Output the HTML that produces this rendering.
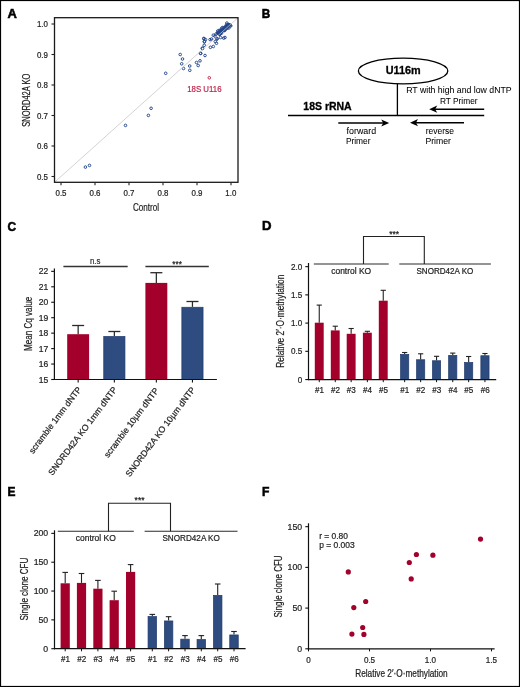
<!DOCTYPE html>
<html><head><meta charset="utf-8"><style>html,body{margin:0;padding:0;background:#fff}svg{display:block;will-change:transform}</style></head>
<body><svg width="520" height="687" viewBox="0 0 520 687">
<rect x="0" y="0" width="520" height="687" fill="#fff"/>
<circle cx="85.40" cy="167.10" r="1.3" fill="none" stroke="#24468a" stroke-width="0.95"/>
<circle cx="89.50" cy="165.40" r="1.3" fill="none" stroke="#24468a" stroke-width="0.95"/>
<circle cx="125.50" cy="125.40" r="1.3" fill="none" stroke="#24468a" stroke-width="0.95"/>
<circle cx="148.40" cy="115.40" r="1.3" fill="none" stroke="#24468a" stroke-width="0.95"/>
<circle cx="151.10" cy="108.30" r="1.3" fill="none" stroke="#24468a" stroke-width="0.95"/>
<circle cx="165.70" cy="73.30" r="1.3" fill="none" stroke="#24468a" stroke-width="0.95"/>
<circle cx="180.20" cy="54.50" r="1.3" fill="none" stroke="#24468a" stroke-width="0.95"/>
<circle cx="182.50" cy="59.00" r="1.3" fill="none" stroke="#24468a" stroke-width="0.95"/>
<circle cx="181.70" cy="63.80" r="1.3" fill="none" stroke="#24468a" stroke-width="0.95"/>
<circle cx="183.50" cy="68.50" r="1.3" fill="none" stroke="#24468a" stroke-width="0.95"/>
<circle cx="189.70" cy="66.00" r="1.3" fill="none" stroke="#24468a" stroke-width="0.95"/>
<circle cx="189.80" cy="70.30" r="1.3" fill="none" stroke="#24468a" stroke-width="0.95"/>
<circle cx="196.50" cy="62.50" r="1.3" fill="none" stroke="#24468a" stroke-width="0.95"/>
<circle cx="198.20" cy="65.50" r="1.3" fill="none" stroke="#24468a" stroke-width="0.95"/>
<circle cx="200.00" cy="60.80" r="1.3" fill="none" stroke="#24468a" stroke-width="0.95"/>
<circle cx="200.70" cy="53.50" r="1.3" fill="none" stroke="#24468a" stroke-width="0.95"/>
<circle cx="205.00" cy="55.50" r="1.3" fill="none" stroke="#24468a" stroke-width="0.95"/>
<circle cx="202.50" cy="48.50" r="1.3" fill="none" stroke="#24468a" stroke-width="0.95"/>
<circle cx="204.20" cy="45.30" r="1.3" fill="none" stroke="#24468a" stroke-width="0.95"/>
<circle cx="204.50" cy="41.80" r="1.3" fill="none" stroke="#24468a" stroke-width="0.95"/>
<circle cx="204.00" cy="38.80" r="1.3" fill="none" stroke="#24468a" stroke-width="0.95"/>
<circle cx="219.30" cy="30.30" r="1.3" fill="none" stroke="#24468a" stroke-width="0.95"/>
<circle cx="213.30" cy="35.20" r="1.3" fill="none" stroke="#24468a" stroke-width="0.95"/>
<circle cx="215.00" cy="36.10" r="1.3" fill="none" stroke="#24468a" stroke-width="0.95"/>
<circle cx="210.10" cy="39.60" r="1.3" fill="none" stroke="#24468a" stroke-width="0.95"/>
<circle cx="211.60" cy="39.00" r="1.3" fill="none" stroke="#24468a" stroke-width="0.95"/>
<circle cx="203.80" cy="38.40" r="1.3" fill="none" stroke="#24468a" stroke-width="0.95"/>
<circle cx="205.50" cy="39.60" r="1.3" fill="none" stroke="#24468a" stroke-width="0.95"/>
<circle cx="204.30" cy="41.60" r="1.3" fill="none" stroke="#24468a" stroke-width="0.95"/>
<circle cx="202.30" cy="48.20" r="1.3" fill="none" stroke="#24468a" stroke-width="0.95"/>
<circle cx="210.40" cy="47.30" r="1.3" fill="none" stroke="#24468a" stroke-width="0.95"/>
<circle cx="213.30" cy="46.50" r="1.3" fill="none" stroke="#24468a" stroke-width="0.95"/>
<circle cx="215.30" cy="41.60" r="1.3" fill="none" stroke="#24468a" stroke-width="0.95"/>
<circle cx="216.50" cy="43.30" r="1.3" fill="none" stroke="#24468a" stroke-width="0.95"/>
<circle cx="223.70" cy="38.10" r="1.3" fill="none" stroke="#24468a" stroke-width="0.95"/>
<circle cx="220.50" cy="37.50" r="1.3" fill="none" stroke="#24468a" stroke-width="0.95"/>
<circle cx="217.00" cy="38.70" r="1.3" fill="none" stroke="#24468a" stroke-width="0.95"/>
<circle cx="200.50" cy="53.20" r="1.3" fill="none" stroke="#24468a" stroke-width="0.95"/>
<circle cx="217.80" cy="31.00" r="1.3" fill="none" stroke="#24468a" stroke-width="0.95"/>
<circle cx="216.00" cy="34.00" r="1.3" fill="none" stroke="#24468a" stroke-width="0.95"/>
<circle cx="217.00" cy="39.00" r="1.3" fill="none" stroke="#24468a" stroke-width="0.95"/>
<circle cx="225.00" cy="37.50" r="1.3" fill="none" stroke="#24468a" stroke-width="0.95"/>
<circle cx="222.89" cy="27.50" r="1.3" fill="none" stroke="#24468a" stroke-width="0.95"/>
<circle cx="223.89" cy="28.32" r="1.3" fill="none" stroke="#24468a" stroke-width="0.95"/>
<circle cx="224.53" cy="28.14" r="1.3" fill="none" stroke="#24468a" stroke-width="0.95"/>
<circle cx="224.71" cy="28.26" r="1.3" fill="none" stroke="#24468a" stroke-width="0.95"/>
<circle cx="226.21" cy="27.52" r="1.3" fill="none" stroke="#24468a" stroke-width="0.95"/>
<circle cx="222.31" cy="30.28" r="1.3" fill="none" stroke="#24468a" stroke-width="0.95"/>
<circle cx="219.95" cy="33.73" r="1.3" fill="none" stroke="#24468a" stroke-width="0.95"/>
<circle cx="217.67" cy="33.10" r="1.3" fill="none" stroke="#24468a" stroke-width="0.95"/>
<circle cx="230.30" cy="25.61" r="1.3" fill="none" stroke="#24468a" stroke-width="0.95"/>
<circle cx="225.77" cy="27.32" r="1.3" fill="none" stroke="#24468a" stroke-width="0.95"/>
<circle cx="221.46" cy="33.26" r="1.3" fill="none" stroke="#24468a" stroke-width="0.95"/>
<circle cx="219.07" cy="33.92" r="1.3" fill="none" stroke="#24468a" stroke-width="0.95"/>
<circle cx="221.13" cy="31.94" r="1.3" fill="none" stroke="#24468a" stroke-width="0.95"/>
<circle cx="224.59" cy="29.14" r="1.3" fill="none" stroke="#24468a" stroke-width="0.95"/>
<circle cx="224.62" cy="29.68" r="1.3" fill="none" stroke="#24468a" stroke-width="0.95"/>
<circle cx="225.55" cy="26.59" r="1.3" fill="none" stroke="#24468a" stroke-width="0.95"/>
<circle cx="224.42" cy="28.19" r="1.3" fill="none" stroke="#24468a" stroke-width="0.95"/>
<circle cx="221.65" cy="30.18" r="1.3" fill="none" stroke="#24468a" stroke-width="0.95"/>
<circle cx="230.76" cy="25.86" r="1.3" fill="none" stroke="#24468a" stroke-width="0.95"/>
<circle cx="226.84" cy="26.72" r="1.3" fill="none" stroke="#24468a" stroke-width="0.95"/>
<circle cx="222.81" cy="30.55" r="1.3" fill="none" stroke="#24468a" stroke-width="0.95"/>
<circle cx="219.75" cy="34.26" r="1.3" fill="none" stroke="#24468a" stroke-width="0.95"/>
<circle cx="226.38" cy="25.10" r="1.3" fill="none" stroke="#24468a" stroke-width="0.95"/>
<circle cx="224.33" cy="30.57" r="1.3" fill="none" stroke="#24468a" stroke-width="0.95"/>
<circle cx="229.15" cy="24.75" r="1.3" fill="none" stroke="#24468a" stroke-width="0.95"/>
<circle cx="221.37" cy="31.66" r="1.3" fill="none" stroke="#24468a" stroke-width="0.95"/>
<circle cx="226.89" cy="23.06" r="1.3" fill="none" stroke="#24468a" stroke-width="0.95"/>
<circle cx="224.05" cy="30.01" r="1.3" fill="none" stroke="#24468a" stroke-width="0.95"/>
<circle cx="218.46" cy="32.71" r="1.3" fill="none" stroke="#24468a" stroke-width="0.95"/>
<circle cx="221.33" cy="30.04" r="1.3" fill="none" stroke="#24468a" stroke-width="0.95"/>
<circle cx="218.66" cy="32.41" r="1.3" fill="none" stroke="#24468a" stroke-width="0.95"/>
<circle cx="228.84" cy="28.01" r="1.3" fill="none" stroke="#24468a" stroke-width="0.95"/>
<circle cx="220.04" cy="32.91" r="1.3" fill="none" stroke="#24468a" stroke-width="0.95"/>
<circle cx="219.31" cy="34.17" r="1.3" fill="none" stroke="#24468a" stroke-width="0.95"/>
<circle cx="228.08" cy="26.44" r="1.3" fill="none" stroke="#24468a" stroke-width="0.95"/>
<circle cx="225.02" cy="29.98" r="1.3" fill="none" stroke="#24468a" stroke-width="0.95"/>
<circle cx="221.08" cy="31.88" r="1.3" fill="none" stroke="#24468a" stroke-width="0.95"/>
<circle cx="225.91" cy="26.92" r="1.3" fill="none" stroke="#24468a" stroke-width="0.95"/>
<circle cx="219.60" cy="32.47" r="1.3" fill="none" stroke="#24468a" stroke-width="0.95"/>
<circle cx="222.40" cy="31.22" r="1.3" fill="none" stroke="#24468a" stroke-width="0.95"/>
<circle cx="229.44" cy="24.84" r="1.3" fill="none" stroke="#24468a" stroke-width="0.95"/>
<circle cx="227.96" cy="24.71" r="1.3" fill="none" stroke="#24468a" stroke-width="0.95"/>
<circle cx="220.37" cy="30.52" r="1.3" fill="none" stroke="#24468a" stroke-width="0.95"/>
<circle cx="227.05" cy="28.23" r="1.3" fill="none" stroke="#24468a" stroke-width="0.95"/>
<circle cx="220.20" cy="33.68" r="1.3" fill="none" stroke="#24468a" stroke-width="0.95"/>
<circle cx="222.00" cy="31.08" r="1.3" fill="none" stroke="#24468a" stroke-width="0.95"/>
<circle cx="227.22" cy="25.92" r="1.3" fill="none" stroke="#24468a" stroke-width="0.95"/>
<circle cx="219.75" cy="34.14" r="1.3" fill="none" stroke="#24468a" stroke-width="0.95"/>
<circle cx="219.13" cy="32.84" r="1.3" fill="none" stroke="#24468a" stroke-width="0.95"/>
<circle cx="225.60" cy="27.41" r="1.3" fill="none" stroke="#24468a" stroke-width="0.95"/>
<circle cx="221.79" cy="28.08" r="1.3" fill="none" stroke="#24468a" stroke-width="0.95"/>
<circle cx="225.13" cy="29.32" r="1.3" fill="none" stroke="#24468a" stroke-width="0.95"/>
<circle cx="225.86" cy="28.25" r="1.3" fill="none" stroke="#24468a" stroke-width="0.95"/>
<circle cx="220.28" cy="32.04" r="1.3" fill="none" stroke="#24468a" stroke-width="0.95"/>
<circle cx="228.92" cy="25.36" r="1.3" fill="none" stroke="#24468a" stroke-width="0.95"/>
<circle cx="220.65" cy="31.42" r="1.3" fill="none" stroke="#24468a" stroke-width="0.95"/>
<circle cx="227.59" cy="26.95" r="1.3" fill="none" stroke="#24468a" stroke-width="0.95"/>
<circle cx="228.91" cy="24.62" r="1.3" fill="none" stroke="#24468a" stroke-width="0.95"/>
<circle cx="227.92" cy="24.71" r="1.3" fill="none" stroke="#24468a" stroke-width="0.95"/>
<circle cx="219.38" cy="32.64" r="1.3" fill="none" stroke="#24468a" stroke-width="0.95"/>
<circle cx="209.3" cy="77.8" r="1.3" fill="none" stroke="#c0264c" stroke-width="0.95"/>
<line x1="54.5" y1="182.3" x2="238.0" y2="17.7" stroke="#c4c4c4" stroke-width="0.75"/>
<rect x="54.5" y="17.7" width="183.5" height="164.60000000000002" fill="none" stroke="#1a1a1a" stroke-width="1.3"/>
<line x1="51.50" y1="176.50" x2="54.50" y2="176.50" stroke="#222" stroke-width="1.1"/>
<line x1="61.00" y1="182.30" x2="61.00" y2="185.30" stroke="#222" stroke-width="1.1"/>
<line x1="51.50" y1="146.00" x2="54.50" y2="146.00" stroke="#222" stroke-width="1.1"/>
<line x1="95.00" y1="182.30" x2="95.00" y2="185.30" stroke="#222" stroke-width="1.1"/>
<line x1="51.50" y1="115.50" x2="54.50" y2="115.50" stroke="#222" stroke-width="1.1"/>
<line x1="129.00" y1="182.30" x2="129.00" y2="185.30" stroke="#222" stroke-width="1.1"/>
<line x1="51.50" y1="85.00" x2="54.50" y2="85.00" stroke="#222" stroke-width="1.1"/>
<line x1="163.00" y1="182.30" x2="163.00" y2="185.30" stroke="#222" stroke-width="1.1"/>
<line x1="51.50" y1="54.50" x2="54.50" y2="54.50" stroke="#222" stroke-width="1.1"/>
<line x1="197.00" y1="182.30" x2="197.00" y2="185.30" stroke="#222" stroke-width="1.1"/>
<line x1="51.50" y1="24.00" x2="54.50" y2="24.00" stroke="#222" stroke-width="1.1"/>
<line x1="231.00" y1="182.30" x2="231.00" y2="185.30" stroke="#222" stroke-width="1.1"/>
<ellipse cx="403.1" cy="71.0" rx="44.7" ry="12.8" fill="none" stroke="#000" stroke-width="1.3"/>
<line x1="397.40" y1="83.80" x2="397.40" y2="115.50" stroke="#000" stroke-width="1.3"/>
<line x1="288.00" y1="115.50" x2="484.20" y2="115.50" stroke="#000" stroke-width="1.3"/>
<line x1="484.20" y1="109.20" x2="434.00" y2="109.20" stroke="#000" stroke-width="1.4"/>
<path d="M429.2,109.2 L437.2,105.60000000000001 L435.2,109.2 L437.2,112.8 Z" fill="#000"/>
<line x1="338.30" y1="123.00" x2="384.40" y2="123.00" stroke="#000" stroke-width="1.4"/>
<path d="M389.2,123.0 L381.2,119.4 L383.2,123.0 L381.2,126.6 Z" fill="#000"/>
<line x1="464.00" y1="122.70" x2="414.80" y2="122.70" stroke="#000" stroke-width="1.4"/>
<path d="M410.0,122.7 L418.0,119.10000000000001 L416.0,122.7 L418.0,126.3 Z" fill="#000"/>
<line x1="78.15" y1="325.50" x2="78.15" y2="334.20" stroke="#2a2a2a" stroke-width="1.25"/>
<line x1="72.15" y1="325.50" x2="84.15" y2="325.50" stroke="#2a2a2a" stroke-width="1.3"/>
<rect x="67.20" y="334.20" width="21.90" height="45.30" fill="#a3002c"/>
<line x1="78.15" y1="379.50" x2="78.15" y2="382.50" stroke="#111" stroke-width="1.1"/>
<line x1="114.35" y1="331.50" x2="114.35" y2="336.10" stroke="#2a2a2a" stroke-width="1.25"/>
<line x1="108.35" y1="331.50" x2="120.35" y2="331.50" stroke="#2a2a2a" stroke-width="1.3"/>
<rect x="103.75" y="336.45" width="21.20" height="43.05" fill="#2e4c80" stroke="#203b6c" stroke-width="0.7"/>
<line x1="114.35" y1="379.50" x2="114.35" y2="382.50" stroke="#111" stroke-width="1.1"/>
<line x1="156.35" y1="272.70" x2="156.35" y2="282.90" stroke="#2a2a2a" stroke-width="1.25"/>
<line x1="150.35" y1="272.70" x2="162.35" y2="272.70" stroke="#2a2a2a" stroke-width="1.3"/>
<rect x="145.40" y="282.90" width="21.90" height="96.60" fill="#a3002c"/>
<line x1="156.35" y1="379.50" x2="156.35" y2="382.50" stroke="#111" stroke-width="1.1"/>
<line x1="192.45" y1="301.50" x2="192.45" y2="306.90" stroke="#2a2a2a" stroke-width="1.25"/>
<line x1="186.45" y1="301.50" x2="198.45" y2="301.50" stroke="#2a2a2a" stroke-width="1.3"/>
<rect x="181.85" y="307.25" width="21.20" height="72.25" fill="#2e4c80" stroke="#203b6c" stroke-width="0.7"/>
<line x1="192.45" y1="379.50" x2="192.45" y2="382.50" stroke="#111" stroke-width="1.1"/>
<line x1="54.40" y1="268.50" x2="54.40" y2="380.10" stroke="#111" stroke-width="1.2"/>
<line x1="53.80" y1="379.50" x2="216.90" y2="379.50" stroke="#111" stroke-width="1.2"/>
<line x1="51.20" y1="379.50" x2="54.40" y2="379.50" stroke="#111" stroke-width="1.1"/>
<line x1="51.20" y1="364.05" x2="54.40" y2="364.05" stroke="#111" stroke-width="1.1"/>
<line x1="51.20" y1="348.60" x2="54.40" y2="348.60" stroke="#111" stroke-width="1.1"/>
<line x1="51.20" y1="333.15" x2="54.40" y2="333.15" stroke="#111" stroke-width="1.1"/>
<line x1="51.20" y1="317.70" x2="54.40" y2="317.70" stroke="#111" stroke-width="1.1"/>
<line x1="51.20" y1="302.25" x2="54.40" y2="302.25" stroke="#111" stroke-width="1.1"/>
<line x1="51.20" y1="286.80" x2="54.40" y2="286.80" stroke="#111" stroke-width="1.1"/>
<line x1="51.20" y1="271.35" x2="54.40" y2="271.35" stroke="#111" stroke-width="1.1"/>
<line x1="63.40" y1="266.50" x2="127.70" y2="266.50" stroke="#333" stroke-width="1.3"/>
<line x1="145.40" y1="266.50" x2="208.80" y2="266.50" stroke="#333" stroke-width="1.3"/>
<line x1="319.25" y1="305.10" x2="319.25" y2="322.70" stroke="#222" stroke-width="1.1"/>
<line x1="316.65" y1="305.10" x2="321.85" y2="305.10" stroke="#222" stroke-width="1.1"/>
<rect x="314.80" y="322.70" width="8.90" height="56.85" fill="#a3002c"/>
<line x1="319.25" y1="379.55" x2="319.25" y2="382.15" stroke="#111" stroke-width="1.0"/>
<line x1="335.25" y1="326.20" x2="335.25" y2="330.40" stroke="#222" stroke-width="1.1"/>
<line x1="332.65" y1="326.20" x2="337.85" y2="326.20" stroke="#222" stroke-width="1.1"/>
<rect x="330.80" y="330.40" width="8.90" height="49.15" fill="#a3002c"/>
<line x1="335.25" y1="379.55" x2="335.25" y2="382.15" stroke="#111" stroke-width="1.0"/>
<line x1="351.15" y1="328.50" x2="351.15" y2="333.80" stroke="#222" stroke-width="1.1"/>
<line x1="348.55" y1="328.50" x2="353.75" y2="328.50" stroke="#222" stroke-width="1.1"/>
<rect x="346.70" y="333.80" width="8.90" height="45.75" fill="#a3002c"/>
<line x1="351.15" y1="379.55" x2="351.15" y2="382.15" stroke="#111" stroke-width="1.0"/>
<line x1="367.35" y1="331.30" x2="367.35" y2="332.70" stroke="#222" stroke-width="1.1"/>
<line x1="364.75" y1="331.30" x2="369.95" y2="331.30" stroke="#222" stroke-width="1.1"/>
<rect x="362.90" y="332.70" width="8.90" height="46.85" fill="#a3002c"/>
<line x1="367.35" y1="379.55" x2="367.35" y2="382.15" stroke="#111" stroke-width="1.0"/>
<line x1="383.25" y1="290.30" x2="383.25" y2="300.70" stroke="#222" stroke-width="1.1"/>
<line x1="380.65" y1="290.30" x2="385.85" y2="290.30" stroke="#222" stroke-width="1.1"/>
<rect x="378.80" y="300.70" width="8.90" height="78.85" fill="#a3002c"/>
<line x1="383.25" y1="379.55" x2="383.25" y2="382.15" stroke="#111" stroke-width="1.0"/>
<line x1="404.65" y1="352.50" x2="404.65" y2="354.00" stroke="#222" stroke-width="1.1"/>
<line x1="402.05" y1="352.50" x2="407.25" y2="352.50" stroke="#222" stroke-width="1.1"/>
<rect x="400.55" y="354.35" width="8.20" height="25.20" fill="#2e4c80" stroke="#203b6c" stroke-width="0.7"/>
<line x1="404.65" y1="379.55" x2="404.65" y2="382.15" stroke="#111" stroke-width="1.0"/>
<line x1="420.65" y1="353.80" x2="420.65" y2="359.40" stroke="#222" stroke-width="1.1"/>
<line x1="418.05" y1="353.80" x2="423.25" y2="353.80" stroke="#222" stroke-width="1.1"/>
<rect x="416.55" y="359.75" width="8.20" height="19.80" fill="#2e4c80" stroke="#203b6c" stroke-width="0.7"/>
<line x1="420.65" y1="379.55" x2="420.65" y2="382.15" stroke="#111" stroke-width="1.0"/>
<line x1="436.55" y1="356.30" x2="436.55" y2="360.40" stroke="#222" stroke-width="1.1"/>
<line x1="433.95" y1="356.30" x2="439.15" y2="356.30" stroke="#222" stroke-width="1.1"/>
<rect x="432.45" y="360.75" width="8.20" height="18.80" fill="#2e4c80" stroke="#203b6c" stroke-width="0.7"/>
<line x1="436.55" y1="379.55" x2="436.55" y2="382.15" stroke="#111" stroke-width="1.0"/>
<line x1="452.75" y1="353.10" x2="452.75" y2="355.00" stroke="#222" stroke-width="1.1"/>
<line x1="450.15" y1="353.10" x2="455.35" y2="353.10" stroke="#222" stroke-width="1.1"/>
<rect x="448.65" y="355.35" width="8.20" height="24.20" fill="#2e4c80" stroke="#203b6c" stroke-width="0.7"/>
<line x1="452.75" y1="379.55" x2="452.75" y2="382.15" stroke="#111" stroke-width="1.0"/>
<line x1="468.65" y1="356.50" x2="468.65" y2="362.10" stroke="#222" stroke-width="1.1"/>
<line x1="466.05" y1="356.50" x2="471.25" y2="356.50" stroke="#222" stroke-width="1.1"/>
<rect x="464.55" y="362.45" width="8.20" height="17.10" fill="#2e4c80" stroke="#203b6c" stroke-width="0.7"/>
<line x1="468.65" y1="379.55" x2="468.65" y2="382.15" stroke="#111" stroke-width="1.0"/>
<line x1="484.95" y1="353.50" x2="484.95" y2="355.40" stroke="#222" stroke-width="1.1"/>
<line x1="482.35" y1="353.50" x2="487.55" y2="353.50" stroke="#222" stroke-width="1.1"/>
<rect x="480.85" y="355.75" width="8.20" height="23.80" fill="#2e4c80" stroke="#203b6c" stroke-width="0.7"/>
<line x1="484.95" y1="379.55" x2="484.95" y2="382.15" stroke="#111" stroke-width="1.0"/>
<line x1="308.50" y1="263.00" x2="308.50" y2="380.15" stroke="#111" stroke-width="1.2"/>
<line x1="307.90" y1="379.55" x2="496.20" y2="379.55" stroke="#111" stroke-width="1.2"/>
<line x1="305.30" y1="379.55" x2="308.50" y2="379.55" stroke="#111" stroke-width="1.1"/>
<line x1="305.30" y1="351.32" x2="308.50" y2="351.32" stroke="#111" stroke-width="1.1"/>
<line x1="305.30" y1="323.10" x2="308.50" y2="323.10" stroke="#111" stroke-width="1.1"/>
<line x1="305.30" y1="294.88" x2="308.50" y2="294.88" stroke="#111" stroke-width="1.1"/>
<line x1="305.30" y1="266.65" x2="308.50" y2="266.65" stroke="#111" stroke-width="1.1"/>
<line x1="313.80" y1="263.95" x2="388.70" y2="263.95" stroke="#2a2a2a" stroke-width="1.15"/>
<line x1="399.30" y1="263.95" x2="490.90" y2="263.95" stroke="#2a2a2a" stroke-width="1.15"/>
<path d="M363.5,263.9 V236.5 H424.3 V263.9" fill="none" stroke="#222" stroke-width="1.1"/>
<line x1="65.20" y1="572.40" x2="65.20" y2="583.30" stroke="#222" stroke-width="1.1"/>
<line x1="62.40" y1="572.40" x2="68.00" y2="572.40" stroke="#222" stroke-width="1.1"/>
<rect x="60.60" y="583.30" width="9.20" height="65.40" fill="#a3002c"/>
<line x1="65.20" y1="648.70" x2="65.20" y2="651.30" stroke="#111" stroke-width="1.0"/>
<line x1="81.50" y1="573.50" x2="81.50" y2="582.90" stroke="#222" stroke-width="1.1"/>
<line x1="78.70" y1="573.50" x2="84.30" y2="573.50" stroke="#222" stroke-width="1.1"/>
<rect x="76.90" y="582.90" width="9.20" height="65.80" fill="#a3002c"/>
<line x1="81.50" y1="648.70" x2="81.50" y2="651.30" stroke="#111" stroke-width="1.0"/>
<line x1="97.90" y1="580.40" x2="97.90" y2="588.70" stroke="#222" stroke-width="1.1"/>
<line x1="95.10" y1="580.40" x2="100.70" y2="580.40" stroke="#222" stroke-width="1.1"/>
<rect x="93.30" y="588.70" width="9.20" height="60.00" fill="#a3002c"/>
<line x1="97.90" y1="648.70" x2="97.90" y2="651.30" stroke="#111" stroke-width="1.0"/>
<line x1="114.20" y1="591.20" x2="114.20" y2="600.20" stroke="#222" stroke-width="1.1"/>
<line x1="111.40" y1="591.20" x2="117.00" y2="591.20" stroke="#222" stroke-width="1.1"/>
<rect x="109.60" y="600.20" width="9.20" height="48.50" fill="#a3002c"/>
<line x1="114.20" y1="648.70" x2="114.20" y2="651.30" stroke="#111" stroke-width="1.0"/>
<line x1="130.60" y1="564.60" x2="130.60" y2="571.90" stroke="#222" stroke-width="1.1"/>
<line x1="127.80" y1="564.60" x2="133.40" y2="564.60" stroke="#222" stroke-width="1.1"/>
<rect x="126.00" y="571.90" width="9.20" height="76.80" fill="#a3002c"/>
<line x1="130.60" y1="648.70" x2="130.60" y2="651.30" stroke="#111" stroke-width="1.0"/>
<line x1="152.30" y1="614.40" x2="152.30" y2="616.20" stroke="#222" stroke-width="1.1"/>
<line x1="149.50" y1="614.40" x2="155.10" y2="614.40" stroke="#222" stroke-width="1.1"/>
<rect x="148.05" y="616.55" width="8.50" height="32.15" fill="#2e4c80" stroke="#203b6c" stroke-width="0.7"/>
<line x1="152.30" y1="648.70" x2="152.30" y2="651.30" stroke="#111" stroke-width="1.0"/>
<line x1="168.60" y1="616.70" x2="168.60" y2="620.60" stroke="#222" stroke-width="1.1"/>
<line x1="165.80" y1="616.70" x2="171.40" y2="616.70" stroke="#222" stroke-width="1.1"/>
<rect x="164.35" y="620.95" width="8.50" height="27.75" fill="#2e4c80" stroke="#203b6c" stroke-width="0.7"/>
<line x1="168.60" y1="648.70" x2="168.60" y2="651.30" stroke="#111" stroke-width="1.0"/>
<line x1="185.00" y1="635.60" x2="185.00" y2="638.80" stroke="#222" stroke-width="1.1"/>
<line x1="182.20" y1="635.60" x2="187.80" y2="635.60" stroke="#222" stroke-width="1.1"/>
<rect x="180.75" y="639.15" width="8.50" height="9.55" fill="#2e4c80" stroke="#203b6c" stroke-width="0.7"/>
<line x1="185.00" y1="648.70" x2="185.00" y2="651.30" stroke="#111" stroke-width="1.0"/>
<line x1="201.30" y1="635.60" x2="201.30" y2="639.20" stroke="#222" stroke-width="1.1"/>
<line x1="198.50" y1="635.60" x2="204.10" y2="635.60" stroke="#222" stroke-width="1.1"/>
<rect x="197.05" y="639.55" width="8.50" height="9.15" fill="#2e4c80" stroke="#203b6c" stroke-width="0.7"/>
<line x1="201.30" y1="648.70" x2="201.30" y2="651.30" stroke="#111" stroke-width="1.0"/>
<line x1="217.70" y1="584.00" x2="217.70" y2="595.00" stroke="#222" stroke-width="1.1"/>
<line x1="214.90" y1="584.00" x2="220.50" y2="584.00" stroke="#222" stroke-width="1.1"/>
<rect x="213.45" y="595.35" width="8.50" height="53.35" fill="#2e4c80" stroke="#203b6c" stroke-width="0.7"/>
<line x1="217.70" y1="648.70" x2="217.70" y2="651.30" stroke="#111" stroke-width="1.0"/>
<line x1="234.00" y1="631.50" x2="234.00" y2="634.60" stroke="#222" stroke-width="1.1"/>
<line x1="231.20" y1="631.50" x2="236.80" y2="631.50" stroke="#222" stroke-width="1.1"/>
<rect x="229.75" y="634.95" width="8.50" height="13.75" fill="#2e4c80" stroke="#203b6c" stroke-width="0.7"/>
<line x1="234.00" y1="648.70" x2="234.00" y2="651.30" stroke="#111" stroke-width="1.0"/>
<line x1="54.50" y1="530.30" x2="54.50" y2="649.30" stroke="#111" stroke-width="1.2"/>
<line x1="53.90" y1="648.70" x2="245.60" y2="648.70" stroke="#111" stroke-width="1.2"/>
<line x1="51.30" y1="648.70" x2="54.50" y2="648.70" stroke="#111" stroke-width="1.1"/>
<line x1="51.30" y1="619.87" x2="54.50" y2="619.87" stroke="#111" stroke-width="1.1"/>
<line x1="51.30" y1="591.04" x2="54.50" y2="591.04" stroke="#111" stroke-width="1.1"/>
<line x1="51.30" y1="562.21" x2="54.50" y2="562.21" stroke="#111" stroke-width="1.1"/>
<line x1="51.30" y1="533.38" x2="54.50" y2="533.38" stroke="#111" stroke-width="1.1"/>
<line x1="57.80" y1="531.20" x2="133.80" y2="531.20" stroke="#2a2a2a" stroke-width="1.15"/>
<line x1="144.60" y1="531.20" x2="237.50" y2="531.20" stroke="#2a2a2a" stroke-width="1.15"/>
<path d="M108.5,531.2 V503.2 H170.5 V531.2" fill="none" stroke="#222" stroke-width="1.1"/>
<circle cx="348.3" cy="571.9" r="2.6" fill="#a3002c"/>
<circle cx="365.7" cy="601.5" r="2.6" fill="#a3002c"/>
<circle cx="353.8" cy="607.6" r="2.6" fill="#a3002c"/>
<circle cx="362.7" cy="627.5" r="2.6" fill="#a3002c"/>
<circle cx="351.9" cy="634.1" r="2.6" fill="#a3002c"/>
<circle cx="363.9" cy="634.4" r="2.6" fill="#a3002c"/>
<circle cx="416.4" cy="554.5" r="2.6" fill="#a3002c"/>
<circle cx="432.9" cy="555.2" r="2.6" fill="#a3002c"/>
<circle cx="409.3" cy="562.5" r="2.6" fill="#a3002c"/>
<circle cx="411.2" cy="578.9" r="2.6" fill="#a3002c"/>
<circle cx="480.5" cy="539.1" r="2.6" fill="#a3002c"/>
<line x1="308.50" y1="523.30" x2="308.50" y2="649.40" stroke="#111" stroke-width="1.2"/>
<line x1="307.90" y1="648.80" x2="494.60" y2="648.80" stroke="#111" stroke-width="1.2"/>
<line x1="305.30" y1="648.80" x2="308.50" y2="648.80" stroke="#111" stroke-width="1.1"/>
<line x1="305.30" y1="608.09" x2="308.50" y2="608.09" stroke="#111" stroke-width="1.1"/>
<line x1="305.30" y1="567.38" x2="308.50" y2="567.38" stroke="#111" stroke-width="1.1"/>
<line x1="305.30" y1="526.67" x2="308.50" y2="526.67" stroke="#111" stroke-width="1.1"/>
<line x1="308.50" y1="648.80" x2="308.50" y2="651.40" stroke="#111" stroke-width="1.0"/>
<line x1="369.50" y1="648.80" x2="369.50" y2="651.40" stroke="#111" stroke-width="1.0"/>
<line x1="430.50" y1="648.80" x2="430.50" y2="651.40" stroke="#111" stroke-width="1.0"/>
<line x1="491.50" y1="648.80" x2="491.50" y2="651.40" stroke="#111" stroke-width="1.0"/>
<text transform="translate(7.59,17.60) scale(1.0357,1)" font-family="Liberation Sans" font-size="12.5" font-weight="bold" fill="#000" stroke="#000" stroke-width="0.55">A</text>
<text transform="translate(261.85,18.00) scale(0.9351,1)" font-family="Liberation Sans" font-size="12.5" font-weight="bold" fill="#000" stroke="#000" stroke-width="0.55">B</text>
<text transform="translate(7.42,230.50) scale(0.9506,1)" font-family="Liberation Sans" font-size="12.5" font-weight="bold" fill="#000" stroke="#000" stroke-width="0.55">C</text>
<text transform="translate(262.06,230.20) scale(1.0519,1)" font-family="Liberation Sans" font-size="12.5" font-weight="bold" fill="#000" stroke="#000" stroke-width="0.55">D</text>
<text transform="translate(7.43,496.00) scale(0.9571,1)" font-family="Liberation Sans" font-size="12.5" font-weight="bold" fill="#000" stroke="#000" stroke-width="0.55">E</text>
<text transform="translate(262.12,496.00) scale(0.9688,1)" font-family="Liberation Sans" font-size="12.5" font-weight="bold" fill="#000" stroke="#000" stroke-width="0.55">F</text>
<text transform="translate(36.95,179.60) scale(0.8800,1)" font-family="Liberation Sans" font-size="9.0" font-weight="normal" fill="#1e1e1e" stroke="#1e1e1e" stroke-width="0.22">0.5</text>
<text transform="translate(55.50,196.30) scale(0.8800,1)" font-family="Liberation Sans" font-size="9.0" font-weight="normal" fill="#1e1e1e" stroke="#1e1e1e" stroke-width="0.22">0.5</text>
<text transform="translate(36.95,149.10) scale(0.8800,1)" font-family="Liberation Sans" font-size="9.0" font-weight="normal" fill="#1e1e1e" stroke="#1e1e1e" stroke-width="0.22">0.6</text>
<text transform="translate(89.50,196.30) scale(0.8800,1)" font-family="Liberation Sans" font-size="9.0" font-weight="normal" fill="#1e1e1e" stroke="#1e1e1e" stroke-width="0.22">0.6</text>
<text transform="translate(36.95,118.60) scale(0.8800,1)" font-family="Liberation Sans" font-size="9.0" font-weight="normal" fill="#1e1e1e" stroke="#1e1e1e" stroke-width="0.22">0.7</text>
<text transform="translate(123.50,196.30) scale(0.8800,1)" font-family="Liberation Sans" font-size="9.0" font-weight="normal" fill="#1e1e1e" stroke="#1e1e1e" stroke-width="0.22">0.7</text>
<text transform="translate(36.95,88.10) scale(0.8800,1)" font-family="Liberation Sans" font-size="9.0" font-weight="normal" fill="#1e1e1e" stroke="#1e1e1e" stroke-width="0.22">0.8</text>
<text transform="translate(157.50,196.30) scale(0.8800,1)" font-family="Liberation Sans" font-size="9.0" font-weight="normal" fill="#1e1e1e" stroke="#1e1e1e" stroke-width="0.22">0.8</text>
<text transform="translate(36.95,57.60) scale(0.8800,1)" font-family="Liberation Sans" font-size="9.0" font-weight="normal" fill="#1e1e1e" stroke="#1e1e1e" stroke-width="0.22">0.9</text>
<text transform="translate(191.50,196.30) scale(0.8800,1)" font-family="Liberation Sans" font-size="9.0" font-weight="normal" fill="#1e1e1e" stroke="#1e1e1e" stroke-width="0.22">0.9</text>
<text transform="translate(36.95,27.10) scale(0.8800,1)" font-family="Liberation Sans" font-size="9.0" font-weight="normal" fill="#1e1e1e" stroke="#1e1e1e" stroke-width="0.22">1.0</text>
<text transform="translate(225.37,196.30) scale(0.8800,1)" font-family="Liberation Sans" font-size="9.0" font-weight="normal" fill="#1e1e1e" stroke="#1e1e1e" stroke-width="0.22">1.0</text>
<text transform="translate(132.96,210.90) scale(0.7361,1)" font-family="Liberation Sans" font-size="11.0" font-weight="normal" fill="#1e1e1e" stroke="#1e1e1e" stroke-width="0.22">Control</text>
<text transform="translate(29.90,126.75) rotate(-90) scale(0.6968,1)" font-family="Liberation Sans" font-size="10.8" font-weight="normal" fill="#1e1e1e" stroke="#1e1e1e" stroke-width="0.22">SNORD42A KO</text>
<text transform="translate(187.19,91.80) scale(0.8721,1)" font-family="Liberation Sans" font-size="9.0" font-weight="normal" fill="#c0264c" stroke="#c0264c" stroke-width="0.22">18S U116</text>
<text transform="translate(385.72,74.40) scale(0.9683,1)" font-family="Liberation Sans" font-size="11.2" font-weight="bold" fill="#000" stroke="#000" stroke-width="0.3">U116m</text>
<text transform="translate(303.37,109.80) scale(1.0487,1)" font-family="Liberation Sans" font-size="10.0" font-weight="bold" fill="#000" stroke="#000" stroke-width="0.3">18S rRNA</text>
<text transform="translate(406.15,93.20) scale(0.9397,1)" font-family="Liberation Sans" font-size="9.3" font-weight="normal" fill="#000" stroke="#000" stroke-width="0.05">RT with high and low dNTP</text>
<text transform="translate(439.88,103.80) scale(0.8978,1)" font-family="Liberation Sans" font-size="9.3" font-weight="normal" fill="#000" stroke="#000" stroke-width="0.05">RT Primer</text>
<text transform="translate(346.50,133.90) scale(0.9571,1)" font-family="Liberation Sans" font-size="9.3" font-weight="normal" fill="#000" stroke="#000" stroke-width="0.05">forward</text>
<text transform="translate(345.88,143.50) scale(0.9015,1)" font-family="Liberation Sans" font-size="9.3" font-weight="normal" fill="#000" stroke="#000" stroke-width="0.05">Primer</text>
<text transform="translate(425.65,133.80) scale(0.9133,1)" font-family="Liberation Sans" font-size="9.3" font-weight="normal" fill="#000" stroke="#000" stroke-width="0.05">reverse</text>
<text transform="translate(425.45,143.90) scale(0.9318,1)" font-family="Liberation Sans" font-size="9.3" font-weight="normal" fill="#000" stroke="#000" stroke-width="0.05">Primer</text>
<text transform="translate(38.68,382.60) scale(0.9500,1)" font-family="Liberation Sans" font-size="9.0" font-weight="normal" fill="#1e1e1e" stroke="#1e1e1e" stroke-width="0.22">15</text>
<text transform="translate(38.68,367.15) scale(0.9500,1)" font-family="Liberation Sans" font-size="9.0" font-weight="normal" fill="#1e1e1e" stroke="#1e1e1e" stroke-width="0.22">16</text>
<text transform="translate(38.68,351.70) scale(0.9500,1)" font-family="Liberation Sans" font-size="9.0" font-weight="normal" fill="#1e1e1e" stroke="#1e1e1e" stroke-width="0.22">17</text>
<text transform="translate(38.68,336.25) scale(0.9500,1)" font-family="Liberation Sans" font-size="9.0" font-weight="normal" fill="#1e1e1e" stroke="#1e1e1e" stroke-width="0.22">18</text>
<text transform="translate(38.68,320.80) scale(0.9500,1)" font-family="Liberation Sans" font-size="9.0" font-weight="normal" fill="#1e1e1e" stroke="#1e1e1e" stroke-width="0.22">19</text>
<text transform="translate(38.68,305.35) scale(0.9500,1)" font-family="Liberation Sans" font-size="9.0" font-weight="normal" fill="#1e1e1e" stroke="#1e1e1e" stroke-width="0.22">20</text>
<text transform="translate(38.68,289.90) scale(0.9500,1)" font-family="Liberation Sans" font-size="9.0" font-weight="normal" fill="#1e1e1e" stroke="#1e1e1e" stroke-width="0.22">21</text>
<text transform="translate(38.68,274.45) scale(0.9500,1)" font-family="Liberation Sans" font-size="9.0" font-weight="normal" fill="#1e1e1e" stroke="#1e1e1e" stroke-width="0.22">22</text>
<text transform="translate(32.20,351.09) rotate(-90) scale(0.7717,1)" font-family="Liberation Sans" font-size="10.5" font-weight="normal" fill="#1e1e1e" stroke="#1e1e1e" stroke-width="0.22">Mean Cq value</text>
<text transform="translate(89.94,264.40) scale(0.9320,1)" font-family="Liberation Sans" font-size="8.4" font-weight="normal" fill="#333" stroke="#333" stroke-width="0.22">n.s</text>
<text transform="translate(172.31,266.85) scale(0.9684,1)" font-family="Liberation Sans" font-size="8.4" font-weight="normal" fill="#222" stroke="#222" stroke-width="0.22">***</text>
<text transform="translate(33.16,454.19) rotate(-53) scale(0.9913,1)" font-family="Liberation Sans" font-size="8.7" font-weight="normal" fill="#1e1e1e" stroke="#1e1e1e" stroke-width="0.22">scramble 1mm dNTP</text>
<text transform="translate(52.48,475.91) rotate(-53) scale(1.0037,1)" font-family="Liberation Sans" font-size="8.7" font-weight="normal" fill="#1e1e1e" stroke="#1e1e1e" stroke-width="0.22">SNORD42A KO 1mm dNTP</text>
<text transform="translate(108.17,458.33) rotate(-53) scale(1.0060,1)" font-family="Liberation Sans" font-size="8.7" font-weight="normal" fill="#1e1e1e" stroke="#1e1e1e" stroke-width="0.22">scramble 10µm dNTP</text>
<text transform="translate(129.66,477.47) rotate(-53) scale(0.9954,1)" font-family="Liberation Sans" font-size="8.7" font-weight="normal" fill="#1e1e1e" stroke="#1e1e1e" stroke-width="0.22">SNORD42A KO 10µm dNTP</text>
<text transform="translate(314.93,393.10) scale(0.9000,1)" font-family="Liberation Sans" font-size="9.0" font-weight="normal" fill="#1e1e1e" stroke="#1e1e1e" stroke-width="0.22">#1</text>
<text transform="translate(330.93,393.10) scale(0.9000,1)" font-family="Liberation Sans" font-size="9.0" font-weight="normal" fill="#1e1e1e" stroke="#1e1e1e" stroke-width="0.22">#2</text>
<text transform="translate(346.83,393.10) scale(0.9000,1)" font-family="Liberation Sans" font-size="9.0" font-weight="normal" fill="#1e1e1e" stroke="#1e1e1e" stroke-width="0.22">#3</text>
<text transform="translate(362.98,393.10) scale(0.9000,1)" font-family="Liberation Sans" font-size="9.0" font-weight="normal" fill="#1e1e1e" stroke="#1e1e1e" stroke-width="0.22">#4</text>
<text transform="translate(378.93,393.10) scale(0.9000,1)" font-family="Liberation Sans" font-size="9.0" font-weight="normal" fill="#1e1e1e" stroke="#1e1e1e" stroke-width="0.22">#5</text>
<text transform="translate(400.33,393.10) scale(0.9000,1)" font-family="Liberation Sans" font-size="9.0" font-weight="normal" fill="#1e1e1e" stroke="#1e1e1e" stroke-width="0.22">#1</text>
<text transform="translate(416.33,393.10) scale(0.9000,1)" font-family="Liberation Sans" font-size="9.0" font-weight="normal" fill="#1e1e1e" stroke="#1e1e1e" stroke-width="0.22">#2</text>
<text transform="translate(432.23,393.10) scale(0.9000,1)" font-family="Liberation Sans" font-size="9.0" font-weight="normal" fill="#1e1e1e" stroke="#1e1e1e" stroke-width="0.22">#3</text>
<text transform="translate(448.38,393.10) scale(0.9000,1)" font-family="Liberation Sans" font-size="9.0" font-weight="normal" fill="#1e1e1e" stroke="#1e1e1e" stroke-width="0.22">#4</text>
<text transform="translate(464.33,393.10) scale(0.9000,1)" font-family="Liberation Sans" font-size="9.0" font-weight="normal" fill="#1e1e1e" stroke="#1e1e1e" stroke-width="0.22">#5</text>
<text transform="translate(480.63,393.10) scale(0.9000,1)" font-family="Liberation Sans" font-size="9.0" font-weight="normal" fill="#1e1e1e" stroke="#1e1e1e" stroke-width="0.22">#6</text>
<text transform="translate(297.66,382.65) scale(0.9000,1)" font-family="Liberation Sans" font-size="9.0" font-weight="normal" fill="#1e1e1e" stroke="#1e1e1e" stroke-width="0.22">0</text>
<text transform="translate(290.91,354.43) scale(0.9000,1)" font-family="Liberation Sans" font-size="9.0" font-weight="normal" fill="#1e1e1e" stroke="#1e1e1e" stroke-width="0.22">0.5</text>
<text transform="translate(290.91,326.20) scale(0.9000,1)" font-family="Liberation Sans" font-size="9.0" font-weight="normal" fill="#1e1e1e" stroke="#1e1e1e" stroke-width="0.22">1.0</text>
<text transform="translate(290.91,297.98) scale(0.9000,1)" font-family="Liberation Sans" font-size="9.0" font-weight="normal" fill="#1e1e1e" stroke="#1e1e1e" stroke-width="0.22">1.5</text>
<text transform="translate(290.91,269.75) scale(0.9000,1)" font-family="Liberation Sans" font-size="9.0" font-weight="normal" fill="#1e1e1e" stroke="#1e1e1e" stroke-width="0.22">2.0</text>
<text transform="translate(284.00,367.85) rotate(-90) scale(0.8084,1)" font-family="Liberation Sans" font-size="10.3" font-weight="normal" fill="#1e1e1e" stroke="#1e1e1e" stroke-width="0.22">Relative 2′·O·methylation</text>
<text transform="translate(389.20,236.60) scale(1.0105,1)" font-family="Liberation Sans" font-size="8.4" font-weight="normal" fill="#222" stroke="#222" stroke-width="0.22">***</text>
<text transform="translate(331.21,274.00) scale(0.9631,1)" font-family="Liberation Sans" font-size="8.8" font-weight="normal" fill="#1e1e1e" stroke="#1e1e1e" stroke-width="0.22">control KO</text>
<text transform="translate(416.43,274.00) scale(0.9168,1)" font-family="Liberation Sans" font-size="8.8" font-weight="normal" fill="#1e1e1e" stroke="#1e1e1e" stroke-width="0.22">SNORD42A KO</text>
<text transform="translate(60.88,662.40) scale(0.9000,1)" font-family="Liberation Sans" font-size="9.0" font-weight="normal" fill="#1e1e1e" stroke="#1e1e1e" stroke-width="0.22">#1</text>
<text transform="translate(77.18,662.40) scale(0.9000,1)" font-family="Liberation Sans" font-size="9.0" font-weight="normal" fill="#1e1e1e" stroke="#1e1e1e" stroke-width="0.22">#2</text>
<text transform="translate(93.58,662.40) scale(0.9000,1)" font-family="Liberation Sans" font-size="9.0" font-weight="normal" fill="#1e1e1e" stroke="#1e1e1e" stroke-width="0.22">#3</text>
<text transform="translate(109.83,662.40) scale(0.9000,1)" font-family="Liberation Sans" font-size="9.0" font-weight="normal" fill="#1e1e1e" stroke="#1e1e1e" stroke-width="0.22">#4</text>
<text transform="translate(126.28,662.40) scale(0.9000,1)" font-family="Liberation Sans" font-size="9.0" font-weight="normal" fill="#1e1e1e" stroke="#1e1e1e" stroke-width="0.22">#5</text>
<text transform="translate(147.98,662.40) scale(0.9000,1)" font-family="Liberation Sans" font-size="9.0" font-weight="normal" fill="#1e1e1e" stroke="#1e1e1e" stroke-width="0.22">#1</text>
<text transform="translate(164.28,662.40) scale(0.9000,1)" font-family="Liberation Sans" font-size="9.0" font-weight="normal" fill="#1e1e1e" stroke="#1e1e1e" stroke-width="0.22">#2</text>
<text transform="translate(180.68,662.40) scale(0.9000,1)" font-family="Liberation Sans" font-size="9.0" font-weight="normal" fill="#1e1e1e" stroke="#1e1e1e" stroke-width="0.22">#3</text>
<text transform="translate(196.93,662.40) scale(0.9000,1)" font-family="Liberation Sans" font-size="9.0" font-weight="normal" fill="#1e1e1e" stroke="#1e1e1e" stroke-width="0.22">#4</text>
<text transform="translate(213.38,662.40) scale(0.9000,1)" font-family="Liberation Sans" font-size="9.0" font-weight="normal" fill="#1e1e1e" stroke="#1e1e1e" stroke-width="0.22">#5</text>
<text transform="translate(229.68,662.40) scale(0.9000,1)" font-family="Liberation Sans" font-size="9.0" font-weight="normal" fill="#1e1e1e" stroke="#1e1e1e" stroke-width="0.22">#6</text>
<text transform="translate(43.34,651.80) scale(0.9700,1)" font-family="Liberation Sans" font-size="9.0" font-weight="normal" fill="#1e1e1e" stroke="#1e1e1e" stroke-width="0.22">0</text>
<text transform="translate(38.49,622.97) scale(0.9700,1)" font-family="Liberation Sans" font-size="9.0" font-weight="normal" fill="#1e1e1e" stroke="#1e1e1e" stroke-width="0.22">50</text>
<text transform="translate(33.64,594.14) scale(0.9700,1)" font-family="Liberation Sans" font-size="9.0" font-weight="normal" fill="#1e1e1e" stroke="#1e1e1e" stroke-width="0.22">100</text>
<text transform="translate(33.64,565.31) scale(0.9700,1)" font-family="Liberation Sans" font-size="9.0" font-weight="normal" fill="#1e1e1e" stroke="#1e1e1e" stroke-width="0.22">150</text>
<text transform="translate(33.64,536.48) scale(0.9700,1)" font-family="Liberation Sans" font-size="9.0" font-weight="normal" fill="#1e1e1e" stroke="#1e1e1e" stroke-width="0.22">200</text>
<text transform="translate(27.90,620.57) rotate(-90) scale(0.7425,1)" font-family="Liberation Sans" font-size="10.9" font-weight="normal" fill="#1e1e1e" stroke="#1e1e1e" stroke-width="0.22">Single clone CFU</text>
<text transform="translate(134.60,503.20) scale(1.0105,1)" font-family="Liberation Sans" font-size="8.4" font-weight="normal" fill="#222" stroke="#222" stroke-width="0.22">***</text>
<text transform="translate(75.81,540.80) scale(0.9631,1)" font-family="Liberation Sans" font-size="8.8" font-weight="normal" fill="#1e1e1e" stroke="#1e1e1e" stroke-width="0.22">control KO</text>
<text transform="translate(162.43,540.90) scale(0.9266,1)" font-family="Liberation Sans" font-size="8.8" font-weight="normal" fill="#1e1e1e" stroke="#1e1e1e" stroke-width="0.22">SNORD42A KO</text>
<text transform="translate(297.24,651.90) scale(0.9700,1)" font-family="Liberation Sans" font-size="9.0" font-weight="normal" fill="#1e1e1e" stroke="#1e1e1e" stroke-width="0.22">0</text>
<text transform="translate(292.39,611.19) scale(0.9700,1)" font-family="Liberation Sans" font-size="9.0" font-weight="normal" fill="#1e1e1e" stroke="#1e1e1e" stroke-width="0.22">50</text>
<text transform="translate(287.54,570.48) scale(0.9700,1)" font-family="Liberation Sans" font-size="9.0" font-weight="normal" fill="#1e1e1e" stroke="#1e1e1e" stroke-width="0.22">100</text>
<text transform="translate(287.54,529.77) scale(0.9700,1)" font-family="Liberation Sans" font-size="9.0" font-weight="normal" fill="#1e1e1e" stroke="#1e1e1e" stroke-width="0.22">150</text>
<text transform="translate(306.25,662.80) scale(0.9000,1)" font-family="Liberation Sans" font-size="9.0" font-weight="normal" fill="#1e1e1e" stroke="#1e1e1e" stroke-width="0.22">0</text>
<text transform="translate(363.88,662.80) scale(0.9000,1)" font-family="Liberation Sans" font-size="9.0" font-weight="normal" fill="#1e1e1e" stroke="#1e1e1e" stroke-width="0.22">0.5</text>
<text transform="translate(424.74,662.80) scale(0.9000,1)" font-family="Liberation Sans" font-size="9.0" font-weight="normal" fill="#1e1e1e" stroke="#1e1e1e" stroke-width="0.22">1.0</text>
<text transform="translate(485.74,662.80) scale(0.9000,1)" font-family="Liberation Sans" font-size="9.0" font-weight="normal" fill="#1e1e1e" stroke="#1e1e1e" stroke-width="0.22">1.5</text>
<text transform="translate(355.16,676.80) scale(0.8040,1)" font-family="Liberation Sans" font-size="10.3" font-weight="normal" fill="#1e1e1e" stroke="#1e1e1e" stroke-width="0.22">Relative 2′·O·methylation</text>
<text transform="translate(282.30,617.57) rotate(-90) scale(0.7329,1)" font-family="Liberation Sans" font-size="10.9" font-weight="normal" fill="#1e1e1e" stroke="#1e1e1e" stroke-width="0.22">Single clone CFU</text>
<text transform="translate(319.21,539.20) scale(0.9789,1)" font-family="Liberation Sans" font-size="8.6" font-weight="normal" fill="#1e1e1e" stroke="#1e1e1e" stroke-width="0.22">r = 0.80</text>
<text transform="translate(319.21,548.40) scale(0.9858,1)" font-family="Liberation Sans" font-size="8.6" font-weight="normal" fill="#1e1e1e" stroke="#1e1e1e" stroke-width="0.22">p = 0.003</text>
<rect x="0.5" y="0.5" width="519" height="686" fill="none" stroke="#000" stroke-width="1.2"/>
</svg></body></html>
